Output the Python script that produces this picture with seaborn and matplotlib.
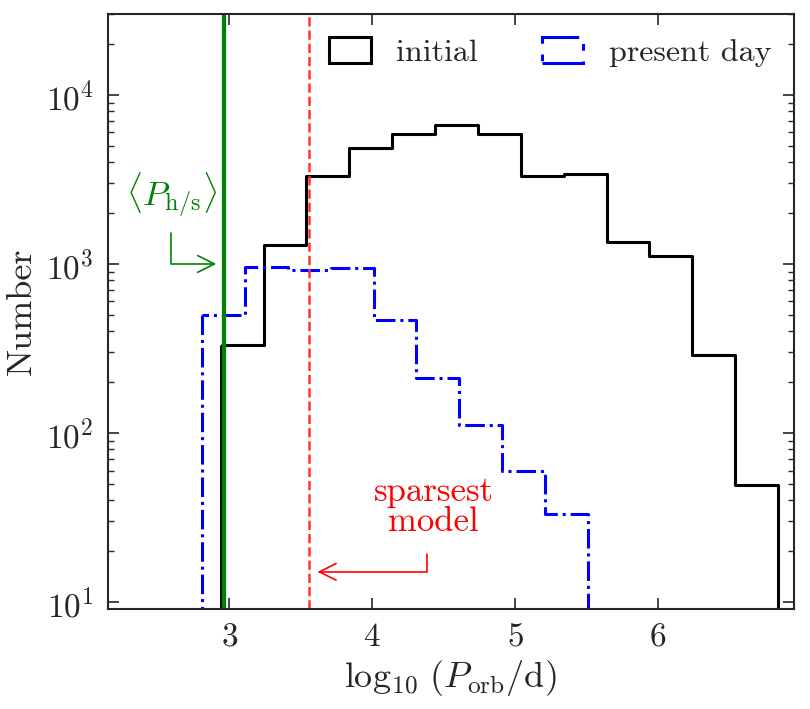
import numpy as np
import pandas as pd
import seaborn as sns
import matplotlib
matplotlib.use('Agg')
import matplotlib.pyplot as plt

# bins in log10(P_orb / d), counts
init_edges = [2.94, 3.24, 3.54, 3.84, 4.14, 4.44, 4.74, 5.04, 5.34, 5.64, 5.94, 6.24, 6.54, 6.84]
init_counts = [330, 1295, 3330, 4820, 5900, 6650, 5860, 3330, 3400, 1350, 1110, 288, 49]

pres_edges = [2.81, 3.11, 3.41, 3.71, 4.01, 4.31, 4.61, 4.91, 5.21, 5.51]
pres_counts = [500, 955, 925, 950, 467, 212, 112, 60, 33]

p_hs = 2.965        # <P_h/s>
p_sparse = 3.56     # sparsest model

sns.set_style('ticks')
plt.rcParams['font.family'] = 'serif'
plt.rcParams['font.serif'] = ['cmr10', 'DejaVu Serif']
plt.rcParams['mathtext.fontset'] = 'cm'
plt.rcParams['axes.unicode_minus'] = False
plt.rcParams['axes.formatter.use_mathtext'] = True

def centers(e):
    e = np.asarray(e)
    return (e[:-1] + e[1:]) / 2

df_init = pd.DataFrame({'logP': centers(init_edges), 'n': init_counts})
df_pres = pd.DataFrame({'logP': centers(pres_edges), 'n': pres_counts})

fig = plt.figure(figsize=(8.1, 7.09), dpi=100)
ax = fig.add_axes([0.133, 0.141, 0.847, 0.839])

sns.histplot(data=df_init, x='logP', weights='n', bins=init_edges, element='step',
             fill=True, color='black', facecolor='none', edgecolor='black', linewidth=2.2,
             label='initial', ax=ax)
sns.histplot(data=df_pres, x='logP', weights='n', bins=pres_edges, element='step',
             fill=True, color='blue', facecolor='none', edgecolor='blue', linewidth=2.2,
             linestyle='-.', label='present day', ax=ax)

ax.set_yscale('log')
ax.axvline(p_hs, color='green', lw=3)
ax.axvline(p_sparse, color='#ff3333', lw=1.8, ls='--')

ax.set_xlim(2.15, 6.95)
ax.set_ylim(9.1, 3.0e4)
ax.set_xticks([3, 4, 5, 6])

# annotations
ax.text(2.594, 2530, r'$\langle P_{\mathrm{h/s}}\rangle$', color='green', fontsize=25,
        ha='center', va='center')
ax.annotate('', xy=(2.909, 1000), xytext=(2.594, 1530),
            arrowprops=dict(arrowstyle='->,head_length=0.6,head_width=0.3', color='green',
                            lw=1.2, mutation_scale=20, shrinkA=0, shrinkB=0,
                            connectionstyle='angle,angleA=90,angleB=0,rad=0'))
ax.text(4.43, 36.4, 'sparsest\nmodel', color='red', fontsize=25, ha='center', va='center',
        linespacing=0.95)
ax.annotate('', xy=(3.618, 15.1), xytext=(4.384, 19.2),
            arrowprops=dict(arrowstyle='->,head_length=0.6,head_width=0.3', color='red',
                            lw=1.2, mutation_scale=20, shrinkA=0, shrinkB=0,
                            connectionstyle='angle,angleA=90,angleB=0,rad=0'))

ax.set_xlabel(r'$\log_{10}\,(P_{\rm orb}/{\rm d})$', fontsize=26, labelpad=4)
ax.set_ylabel('Number', fontsize=26, labelpad=6)
ax.tick_params(which='both', direction='in', top=True, right=True, labelsize=24)
ax.tick_params(which='major', length=8, width=1.2, pad=10)
ax.tick_params(which='minor', length=4, width=1)
ax.minorticks_off()
ax.yaxis.set_minor_locator(matplotlib.ticker.LogLocator(subs=np.arange(2, 10)))
for s in ax.spines.values():
    s.set_linewidth(1.5)

ax.legend(loc='upper right', ncol=2, frameon=False, fontsize=23, handlelength=1.3,
          handleheight=0.9, columnspacing=2.0, borderaxespad=0.3)

fig.savefig('out.png', dpi=100)
